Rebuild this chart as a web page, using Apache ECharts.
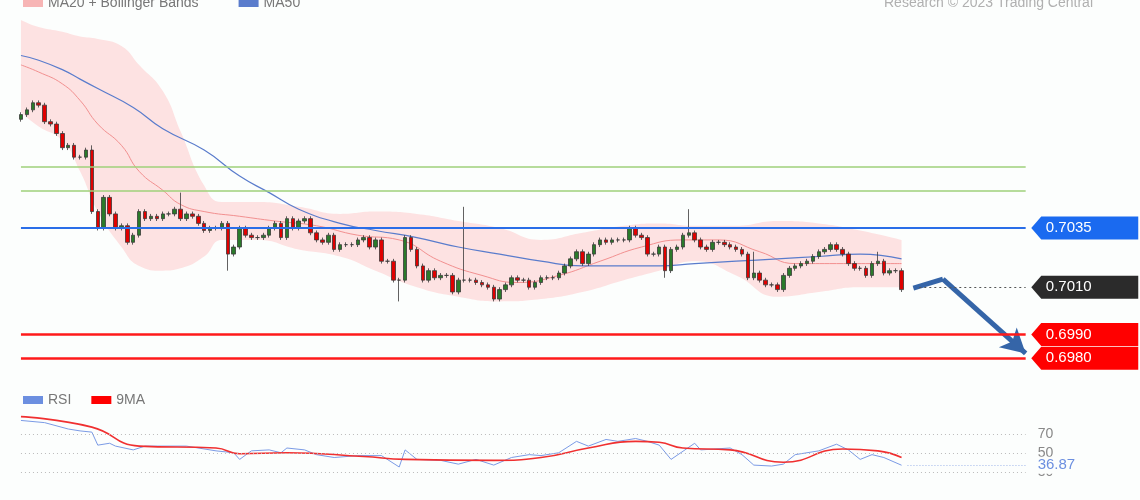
<!DOCTYPE html>
<html><head><meta charset="utf-8">
<script src="https://cdn.jsdelivr.net/npm/echarts@6/dist/echarts.min.js"></script>
<style>html,body{margin:0;padding:0;background:#fcfefd}#c{width:1140px;height:500px}</style>
</head><body><div id="c"></div>
<script>
// ---- data ----
const closes = [0.7083,0.7085,0.7088,0.7087,0.7080,0.7079,0.7075,0.7069,0.7070,0.7065,0.7065,0.7068,0.7042,0.7035,0.7048,0.7041,0.7035,0.7036,0.7029,0.7032,
0.7042,0.7039,0.7040,0.7039,0.7041,0.7041,0.7043,0.7039,0.7041,0.7040,0.7037,0.7034,0.7035,0.7035,0.7037,0.7024,0.7027,0.7035,0.7032,0.7031,
0.7031,0.7032,0.7035,0.7037,0.7031,0.7039,0.7035,0.7038,0.7039,0.7033,0.7030,0.7029,0.7032,0.7026,0.7028,0.7028,0.7028,0.7030,0.7031,0.7027,
0.7030,0.7021,0.7021,0.7013,0.7013,0.7031,0.7026,0.7019,0.7013,0.7017,0.7014,0.7015,0.7015,0.7008,0.7013,0.7013,0.7013,0.7012,0.7011,0.7010,
0.7005,0.7009,0.7011,0.7014,0.7013,0.7013,0.7010,0.7012,0.7014,0.7014,0.7014,0.7016,0.7019,0.7022,0.7025,0.7020,0.7024,0.7028,0.7030,0.7029,
0.7030,0.7030,0.7030,0.7035,0.7032,0.7031,0.7024,0.7024,0.7027,0.7017,0.7026,0.7027,0.7032,0.7033,0.7030,0.7027,0.7026,0.7029,0.7029,0.7028,
0.7027,0.7026,0.7024,0.7014,0.7016,0.7013,0.7011,0.7011,0.7009,0.7015,0.7018,0.7019,0.7020,0.7021,0.7023,0.7025,0.7026,0.7028,0.7026,0.7024,
0.7020,0.7018,0.7018,0.7015,0.7020,0.7021,0.7016,0.7017,0.7017,0.7009];
const firstOpen = 0.7081;
const wickHigh = {27:0.7050, 75:0.7044, 113:0.7043, 124:0.7025, 145:0.7025, 12:0.7070};
const wickLow = {35:0.7017, 64:0.7004, 109:0.7014};

const ma50Idx = [0,3,7,10,13,19,24,31,37,42,47,54,60,67,74,81,88,95,102,108,114,121,128,135,142,149];
const ma50Val = [0.7108,0.7106,0.7102,0.7098,0.7094,0.7086,0.7077,0.7068,0.7057,0.7050,0.7043,0.7037,0.7034,0.7031,0.7027,0.7024,0.7021,0.7019,0.7019,0.7019,0.7020,0.7021,0.7022,0.7023,0.7024,0.7022];
const ma20Idx = [0,3,7,10,13,17,20,24,27,31,37,43,50,57,64,71,78,84,91,98,105,112,118,125,131,138,145,149];
const ma20Val = [0.7104,0.7101,0.7096,0.7089,0.7079,0.7070,0.7059,0.7051,0.7045,0.7042,0.7040,0.7038,0.7036,0.7032,0.7030,0.7021,0.7015,0.7012,0.7015,0.7021,0.7027,0.7030,0.7030,0.7025,0.7020,0.7020,0.7020,0.7020];
const bandIdx = [0,3,7,10,13,17,20,24,27,31,34,40,47,54,60,67,74,81,88,95,102,108,114,121,128,135,142,149];
const bandUpper = [0.7123,0.7120,0.7118,0.7116,0.7115,0.7112,0.7104,0.7093,0.7076,0.7053,0.7046,0.7046,0.7044,0.7041,0.7042,0.7041,0.7038,0.7035,0.7030,0.7033,0.7036,0.7037,0.7036,0.7036,0.7038,0.7037,0.7034,0.7030];
const bandLower = [0.7084,0.7078,0.7072,0.7059,0.7042,0.7027,0.7019,0.7017,0.7018,0.7023,0.7030,0.7030,0.7026,0.7023,0.7017,0.7010,0.7006,0.7004,0.7005,0.7008,0.7013,0.7017,0.7021,0.7015,0.7006,0.7008,0.7010,0.7010];

const rsiIdx = [0,4,8,10,12,13,15,16,19,21,28,33,36,37,39,42,44,45,48,50,53,57,61,64,65,67,71,74,77,80,83,86,88,91,94,96,99,101,104,106,108,110,114,115,120,122,124,127,129,131,135,138,140,142,144,146,149];
const rsiVal = [84,81.7,75,73,71.7,58,60,57,53,57,57,52,50,43,52,53,50,55,53,48,45,47,47,35,53,43,42,38,43,37,45,48,47,50,62,57,64,62,65,62,58,43,60,53,55,48,37,36,38,48,52,59,53,43,48,45,36.87];
const ma9Idx = [0,12,20,33,37,45,58,65,80,88,96,104,108,112,120,129,139,145,149];
const ma9Val = [88,77,57,55,49,50,46,43,42,45,55,62,61,55,53,40,54,52,45];

const levels = {r1:0.7061, r2:0.7051, pivot:0.7035, last:0.7010, s1:0.6990, s2:0.6980};
const rsiLevels = [70,50,30];
const rsiLast = 36.87;
const arrowPts = [[151,0.70096],[156,0.70134],[170,0.6982]];
const NCAT = 189;

// ---- build ----
const cats = Array.from({length:NCAT},(_, i)=>String(i));
const candles = closes.map((c,i)=>{
  const o = i===0 ? firstOpen : closes[i-1];
  const hi = wickHigh[i] !== undefined ? wickHigh[i] : Math.max(o,c)+0.0001;
  const lo = wickLow[i] !== undefined ? wickLow[i] : Math.min(o,c)-0.0001;
  return [o,c,lo,hi];
});
const zip=(a,b)=>a.map((x,i)=>[x,b[i]]);
const bandWidth = bandUpper.map((u,i)=>+(u-bandLower[i]).toFixed(5));
const BG='#fcfefd';
const endIdx=170;
function hline(v,color,width,type){
  return [{coord:[0,v],lineStyle:{color:color,width:width,type:type}},{coord:[endIdx,v]}];
}
function box(v,color){
  return {coord:[180,v],value:v.toFixed(4),
    symbol:'path://M0,11 L10,0 L107,0 L107,22 L10,22 Z',symbolSize:[107,23],symbolKeepAspect:false,
    itemStyle:{color:color},
    label:{show:true,position:'inside',color:'#fff',fontSize:15,offset:[-16,0],fontFamily:'Liberation Sans',formatter:v.toFixed(4)}};
}
const chart = echarts.init(document.getElementById('c'));
chart.setOption({
  backgroundColor:BG, animation:false,
  textStyle:{fontFamily:'Liberation Sans'},
  title:{text:'Research © 2023 Trading Central',right:42,top:-9,textStyle:{color:'#b0b0b0',fontSize:14,fontWeight:'normal'}},
  legend:[
    {data:['MA20 + Bollinger Bands','MA50'],left:18,top:-9,icon:'rect',itemWidth:20,itemHeight:8,itemGap:40,textStyle:{color:'#777',fontSize:14}},
    {data:['RSI','9MA'],left:18,top:388,icon:'rect',itemWidth:20,itemHeight:8,itemGap:20,textStyle:{color:'#777',fontSize:14}}
  ],
  grid:[{left:18,right:5,top:20,height:350},{left:18,right:5,top:410,height:80.75}],
  xAxis:[
    {type:'category',data:cats,gridIndex:0,show:false,boundaryGap:true},
    {type:'category',data:cats,gridIndex:1,show:false,boundaryGap:true}
  ],
  yAxis:[
    {type:'value',gridIndex:0,min:0.6975,max:0.7123,show:false,splitLine:{show:false}},
    {type:'value',gridIndex:1,min:10,max:95,show:false,splitLine:{show:false}}
  ],
  series:[
    {name:'bandLow',type:'line',data:zip(bandIdx,bandLower),stack:'bb',smooth:true,symbol:'none',z:1,lineStyle:{width:0}},
    {name:'MA20 + Bollinger Bands',type:'line',data:zip(bandIdx,bandWidth),stack:'bb',smooth:true,symbol:'none',z:1,
     lineStyle:{width:0,color:'#f9c9c9'},itemStyle:{color:'#f7b5b5'},areaStyle:{color:'#fde2e2',opacity:1}},
    {name:'MA20',type:'line',data:zip(ma20Idx,ma20Val),smooth:true,symbol:'none',z:3,lineStyle:{color:'#f29090',width:1}},
    {name:'MA50',type:'line',data:zip(ma50Idx,ma50Val),smooth:true,symbol:'none',z:3,lineStyle:{color:'#5a7ccc',width:1.2},itemStyle:{color:'#5a7ccc'}},
    {name:'price',type:'candlestick',data:candles,z:5,barWidth:4,
     itemStyle:{color:'#2a7a2a',color0:'#e00000',borderColor:'#3a3a3a',borderColor0:'#3a3a3a',borderWidth:0.8},
     markLine:{silent:true,symbol:'none',label:{show:false},z:6,data:[
       hline(levels.r1,'#9fd07a',1.5,'solid'),
       hline(levels.r2,'#9fd07a',1.5,'solid'),
       hline(levels.pivot,'#2a6ee8',1.8,'solid'),
       [{coord:[152,levels.last],lineStyle:{color:'#555',width:1,type:[2,3]}},{coord:[endIdx,levels.last]}],
       hline(levels.s1,'#ff1a1a',2.5,'solid'),
       hline(levels.s2,'#ff1a1a',2.5,'solid')
     ]},
     markPoint:{silent:true,z:7,data:[box(levels.pivot,'#1a6af0'),box(levels.last,'#2b2b2b'),box(levels.s1,'#ff0000'),box(levels.s2,'#ff0000')]}
    },
    {name:'arrow',type:'line',data:[],z:8,
     markLine:{silent:true,symbol:['none','none'],symbolSize:[20,24],label:{show:false},lineStyle:{color:'#3565a8',width:5,type:'solid'},data:[
       [{coord:arrowPts[0]},{coord:arrowPts[1]}],
       [{coord:arrowPts[1]},{coord:arrowPts[2],symbol:'arrow'}]
     ]}},
    {name:'RSI',type:'line',xAxisIndex:1,yAxisIndex:1,data:zip(rsiIdx,rsiVal),symbol:'none',lineStyle:{color:'#7b9be6',width:1},itemStyle:{color:'#6c8fe0'},z:3,
     markLine:{silent:true,symbol:'none',data:[
       ...rsiLevels.map(v=>[{coord:[0,v],lineStyle:{color:'#bbb',width:1,type:[1,3]},label:{show:true,position:'end',formatter:String(v),color:'#888',fontSize:14,distance:12}},{coord:[endIdx,v]}]),
       [{coord:[150,rsiLast],lineStyle:{color:'#9fb6ea',width:1,type:[1,2]},label:{show:true,position:'end',formatter:rsiLast.toFixed(2),color:'#6c8fe0',fontSize:15,distance:12,backgroundColor:BG,padding:[1,2,1,0]}},{coord:[endIdx,rsiLast]}]
     ]}},
    {name:'9MA',type:'line',xAxisIndex:1,yAxisIndex:1,data:zip(ma9Idx,ma9Val),smooth:true,symbol:'none',lineStyle:{color:'#f03030',width:1.6},itemStyle:{color:'#ff0000'},z:4}
  ]
});
</script></body></html>
